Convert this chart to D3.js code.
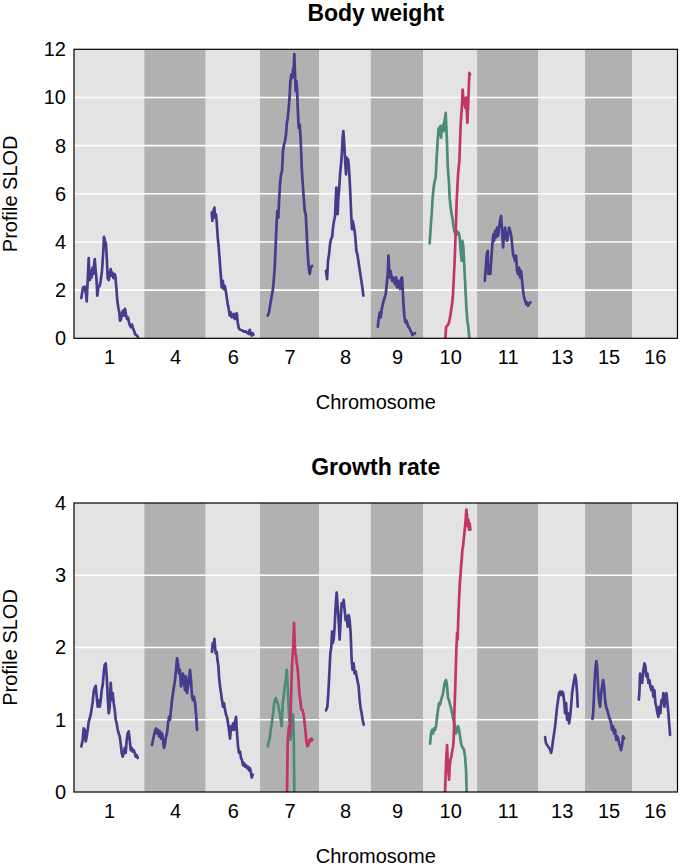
<!DOCTYPE html>
<html>
<head>
<meta charset="utf-8">
<script src="https://cdn.jsdelivr.net/npm/d3@7"></script>
<style>
  body { margin: 0; background: #fff; }
  svg { display: block; }
  text { font-family: "Liberation Sans", Arial, Helvetica, sans-serif; fill: #000; }
</style>
</head>
<body>
<svg id="chart" width="680" height="867"></svg>
<script>
// ---------- DATA ----------
const chromosomes = ["1", "4", "6", "7", "8", "9", "10", "11", "13", "15", "16"];
const chromLengths = [70.3, 61.4, 54.3, 59.3, 51.4, 52.6, 53.7, 61.3, 46.7, 47.0, 45.4];

const bodyWeightTicks = [0, 2, 4, 6, 8, 10, 12];
const growthRateTicks = [0, 1, 2, 3, 4];

const seriesColors = { main: "#463c8c", green: "#4c8a7a", red: "#c2346a" };

// Body weight profiles: [position within chromosome, SLOD]
const bwChr1 = [[7.3,1.67],[9.0,2.11],[10.7,2.14],[12.0,1.84],[12.7,1.53],[14.0,2.67],[14.7,3.33],[15.3,2.67],[16.0,2.42],[16.7,2.80],[17.7,2.53],[18.7,2.94],[19.3,2.67],[20.7,3.29],[21.7,2.80],[22.7,2.32],[23.3,1.77],[24.3,2.11],[25.7,2.18],[26.7,2.39],[28.0,2.80],[29.3,3.63],[30.0,4.21],[31.0,4.05],[32.0,3.91],[33.0,3.15],[33.7,2.50],[34.7,2.42],[35.7,2.67],[36.7,2.87],[37.3,2.60],[38.3,2.73],[39.3,2.50],[40.3,2.67],[41.3,2.60],[42.3,2.11],[43.3,1.56],[44.3,1.28],[45.3,1.08],[46.0,0.73],[47.0,0.80],[48.0,1.04],[49.0,1.15],[50.0,0.94],[51.0,1.22],[52.0,0.98],[53.0,0.80],[54.0,0.87],[55.0,0.66],[56.0,0.52],[57.0,0.46],[58.0,0.57],[59.0,0.41],[60.0,0.32],[61.0,0.18],[62.0,0.14],[63.0,0.11],[64.0,0.04]];
const bwChr6 = [[6.0,5.22],[6.7,4.88],[7.7,5.29],[8.7,5.43],[9.3,5.01],[10.3,5.15],[11.0,4.81],[12.0,4.19],[13.0,3.77],[14.0,3.22],[15.0,2.67],[16.0,2.11],[17.0,2.39],[18.0,2.04],[19.0,2.18],[20.0,1.98],[21.0,1.70],[22.0,1.42],[23.0,1.22],[24.0,0.94],[25.0,1.08],[26.0,0.87],[27.0,0.90],[28.0,1.01],[29.0,0.80],[30.0,0.94],[31.0,1.04],[32.0,0.66],[33.0,0.43],[34.0,0.37],[35.0,0.35],[36.7,0.32],[38.3,0.28],[40.0,0.29],[41.7,0.22],[43.0,0.18],[44.0,0.35],[45.0,0.18],[46.0,0.11],[47.0,0.21],[47.7,0.15]];
const bwChr7 = [[7.7,0.94],[9.0,1.08],[10.3,1.42],[11.7,1.77],[12.7,1.98],[13.7,2.39],[14.7,2.94],[15.7,3.91],[16.7,4.88],[17.3,5.29],[18.3,5.01],[19.0,5.70],[20.0,6.40],[21.0,6.81],[22.0,6.95],[23.0,7.78],[24.0,8.05],[25.0,8.19],[26.0,8.47],[26.7,8.88],[27.7,9.16],[28.7,9.57],[29.7,10.12],[30.3,10.68],[31.3,10.95],[32.3,10.81],[33.0,11.16],[33.7,11.23],[34.3,11.80],[35.0,10.95],[35.7,10.26],[36.3,10.68],[37.0,10.40],[37.7,9.57],[38.7,8.74],[39.7,8.88],[40.7,8.19],[41.7,7.09],[42.7,6.40],[43.7,5.84],[44.7,5.29],[45.7,5.15],[46.7,4.32],[47.7,3.49],[48.7,2.94],[49.7,2.67],[50.7,2.94],[52.0,3.01]];
const bwChr8 = [[6.7,2.80],[7.7,2.46],[8.7,3.22],[9.7,3.49],[10.7,3.91],[11.7,4.12],[12.7,4.19],[13.7,4.60],[14.7,4.88],[15.7,5.08],[16.3,5.70],[17.0,6.26],[17.7,5.84],[18.3,5.15],[19.0,5.84],[19.7,6.12],[20.7,6.81],[21.7,7.22],[22.7,7.78],[23.3,8.33],[24.0,8.60],[24.7,8.19],[25.3,7.78],[26.0,7.22],[26.7,6.81],[27.3,7.50],[28.0,7.09],[28.7,7.43],[29.3,7.22],[30.0,6.81],[30.7,6.26],[31.3,5.70],[32.0,5.01],[32.7,4.53],[33.3,4.88],[34.0,4.74],[35.0,4.53],[36.0,4.19],[37.0,3.63],[38.0,3.49],[39.0,3.22],[40.0,2.94],[41.0,2.67],[42.0,2.39],[43.0,2.11],[44.0,1.77]];
const bwChr9 = [[7.0,0.48],[8.0,0.80],[9.0,1.08],[10.0,0.87],[11.0,1.22],[12.0,1.42],[13.0,1.56],[14.0,1.70],[15.0,1.84],[16.0,2.25],[17.0,2.67],[17.7,3.43],[18.3,2.94],[19.0,2.53],[19.7,2.80],[20.3,2.67],[21.3,2.39],[22.3,2.53],[23.3,2.32],[24.3,2.25],[25.3,2.53],[26.3,2.11],[27.3,2.39],[28.3,2.25],[29.3,2.04],[30.3,2.46],[31.3,2.53],[32.0,1.98],[32.7,1.42],[33.7,0.87],[34.7,0.66],[35.7,0.73],[36.7,0.59],[37.7,0.46],[38.7,0.43],[39.7,0.32],[40.7,0.25],[41.7,0.14],[42.7,0.18],[44.3,0.21]];
const bwChr10Green = [[6.3,3.94],[7.3,4.60],[8.3,5.15],[9.3,5.84],[10.3,6.26],[11.3,6.53],[12.3,6.67],[13.3,7.50],[14.3,8.19],[15.3,8.72],[16.3,8.47],[17.0,8.81],[17.7,8.33],[18.3,8.72],[19.0,8.60],[19.7,8.88],[20.3,8.60],[21.0,9.02],[21.7,9.16],[22.3,9.36],[23.0,8.74],[23.7,8.05],[24.3,7.22],[25.0,6.81],[25.7,6.40],[26.3,5.84],[27.3,5.43],[28.3,5.15],[29.3,4.94],[30.3,4.60],[31.3,4.39],[32.3,4.32],[33.3,4.46],[34.3,4.32],[35.3,4.39],[36.3,4.19],[37.3,3.63],[38.3,3.22],[39.0,4.05],[40.0,3.77],[41.0,2.94],[42.0,2.11],[43.0,1.28],[44.0,0.73],[45.0,0.46],[46.0,0.00]];
const bwChr10Red = [[22.0,0.00],[22.7,0.46],[23.7,0.52],[24.7,0.57],[25.7,0.66],[26.7,0.87],[27.7,1.15],[28.7,1.42],[29.7,1.84],[30.3,2.39],[31.3,3.22],[32.0,4.05],[32.7,4.88],[33.3,5.70],[34.0,6.26],[34.7,6.81],[35.3,7.09],[36.0,7.36],[36.7,8.19],[37.3,8.88],[38.0,9.30],[38.7,9.71],[39.3,10.33],[40.0,9.92],[40.7,9.71],[41.3,9.85],[42.0,9.57],[42.7,9.99],[43.3,9.50],[44.0,8.95],[44.7,9.57],[45.3,10.26],[46.0,11.02],[46.7,10.95]];
const bwChr11 = [[7.7,2.39],[8.7,2.94],[9.7,3.49],[10.7,3.63],[11.3,2.67],[12.3,2.94],[13.3,2.67],[14.3,3.36],[15.3,3.91],[16.3,4.32],[17.0,4.05],[18.0,4.46],[19.0,4.19],[20.0,4.60],[21.0,4.25],[22.0,4.60],[23.0,4.88],[24.0,5.08],[25.0,4.46],[26.0,3.77],[27.0,4.32],[28.0,4.60],[29.0,4.19],[30.0,4.05],[31.0,4.32],[32.0,4.60],[33.0,4.46],[34.0,4.32],[35.0,3.91],[36.0,3.49],[37.0,3.36],[38.0,3.22],[39.0,3.43],[40.0,2.80],[41.0,2.67],[42.0,2.94],[43.0,2.53],[44.0,2.80],[45.0,2.39],[46.0,1.98],[47.0,1.70],[48.0,1.56],[49.0,1.42],[50.0,1.49],[51.0,1.35],[52.0,1.42],[53.3,1.49]];

// Growth rate profiles
const grChr1 = [[7.3,0.63],[8.7,0.72],[9.7,0.88],[10.7,0.86],[11.7,0.70],[12.7,0.77],[13.7,0.86],[14.7,0.97],[15.7,1.02],[16.7,1.07],[17.7,1.16],[18.7,1.25],[19.7,1.39],[20.7,1.44],[21.7,1.47],[22.7,1.32],[23.7,1.18],[24.7,1.27],[25.7,1.18],[26.7,1.27],[27.7,1.41],[28.7,1.48],[29.7,1.64],[30.7,1.76],[31.7,1.78],[32.7,1.60],[33.7,1.32],[34.7,1.09],[35.7,1.18],[36.7,1.51],[37.7,1.27],[38.7,1.37],[39.7,1.23],[40.7,1.14],[41.7,1.00],[42.7,0.95],[43.7,0.86],[44.7,0.81],[45.7,0.77],[46.7,0.67],[47.7,0.54],[48.7,0.49],[49.7,0.54],[50.7,0.61],[51.7,0.54],[52.7,0.72],[53.7,0.81],[54.7,0.84],[55.7,0.72],[56.7,0.58],[57.7,0.61],[58.7,0.56],[59.7,0.58],[60.7,0.54],[61.7,0.49],[62.7,0.51],[63.7,0.47]];
const grChr4 = [[7.7,0.65],[8.7,0.72],[9.7,0.79],[10.7,0.84],[11.7,0.88],[12.7,0.81],[13.7,0.86],[14.7,0.77],[15.7,0.84],[16.7,0.74],[17.7,0.81],[18.7,0.72],[19.7,0.61],[20.7,0.67],[21.7,0.77],[22.7,0.81],[23.7,0.95],[24.7,1.04],[25.7,1.00],[26.7,1.14],[27.7,1.27],[28.7,1.37],[29.7,1.46],[30.7,1.55],[31.7,1.69],[32.7,1.85],[33.7,1.78],[34.7,1.64],[35.7,1.69],[36.7,1.46],[37.7,1.55],[38.7,1.64],[39.7,1.51],[40.7,1.41],[41.7,1.60],[42.7,1.37],[43.7,1.46],[44.7,1.55],[45.7,1.69],[46.7,1.55],[47.7,1.32],[48.7,1.27],[49.7,1.32],[50.7,1.23],[51.7,1.09],[52.7,0.86]];
const grChr6 = [[6.3,1.94],[7.0,2.06],[8.0,1.99],[8.7,2.12],[9.3,2.01],[10.0,1.92],[11.0,1.94],[11.7,1.83],[12.7,1.74],[13.3,1.60],[14.3,1.46],[15.3,1.37],[16.3,1.27],[17.3,1.18],[18.3,1.23],[19.3,1.14],[20.3,1.07],[21.3,1.04],[22.3,0.95],[23.3,0.86],[24.3,0.74],[25.3,0.91],[26.3,0.86],[27.3,0.95],[28.3,0.86],[29.3,0.97],[30.3,1.04],[31.3,0.81],[32.3,0.63],[33.3,0.54],[34.3,0.56],[35.3,0.47],[36.3,0.44],[37.3,0.37],[38.3,0.40],[39.3,0.35],[40.3,0.37],[41.3,0.33],[42.3,0.35],[43.3,0.30],[44.3,0.33],[45.3,0.26],[46.0,0.20],[47.0,0.24]];
const grChr7Green = [[7.7,0.63],[8.7,0.70],[9.7,0.74],[10.7,0.86],[11.7,0.95],[12.7,1.04],[13.7,1.18],[14.7,1.27],[15.7,1.30],[16.7,1.25],[17.7,1.23],[18.7,1.16],[19.7,1.09],[20.7,1.00],[21.7,0.91],[22.7,1.23],[23.7,1.32],[24.7,1.46],[25.7,1.55],[26.7,1.69],[27.7,1.46],[28.3,1.27],[29.0,1.09],[29.7,0.91],[30.3,0.72],[31.3,0.81],[32.3,0.91],[33.0,1.07],[33.7,0.81],[34.0,0.35],[34.3,0.00]];
const grChr7Red = [[27.0,0.00],[27.3,0.35],[27.7,0.72],[28.3,0.81],[29.0,0.91],[29.7,0.81],[30.3,0.91],[31.0,1.27],[31.7,1.64],[32.3,1.83],[33.0,1.97],[33.7,2.20],[34.0,2.34],[34.7,2.06],[35.3,1.92],[36.0,1.88],[36.7,1.78],[37.3,1.74],[38.0,1.64],[38.7,1.51],[39.3,1.37],[40.3,1.27],[41.3,1.14],[42.3,1.14],[43.3,1.09],[44.3,1.00],[45.3,0.86],[46.3,0.70],[47.3,0.63],[48.3,0.65],[49.3,0.72],[50.3,0.70],[51.3,0.74],[52.3,0.72]];
const grChr8 = [[6.7,1.13],[8.0,1.18],[9.0,1.37],[10.0,1.64],[11.0,1.92],[12.0,2.01],[12.7,2.22],[13.3,2.06],[14.3,2.11],[15.3,2.29],[16.3,2.57],[17.3,2.76],[18.3,2.57],[19.3,2.38],[20.3,2.11],[21.3,2.38],[22.3,2.61],[23.3,2.57],[24.3,2.66],[25.3,2.52],[26.3,2.38],[27.3,2.43],[28.3,2.29],[29.3,2.45],[30.3,2.38],[31.3,2.20],[32.3,1.83],[33.3,1.69],[34.3,1.78],[35.3,1.64],[36.3,1.67],[37.3,1.60],[38.3,1.53],[39.3,1.46],[40.3,1.27],[41.3,1.16],[42.3,1.09],[43.3,1.00],[44.3,0.93]];
const grChr10Green = [[6.7,0.67],[7.7,0.81],[8.7,0.86],[9.7,0.81],[10.7,0.88],[11.7,0.86],[12.7,0.91],[13.7,1.04],[14.7,1.14],[15.7,1.23],[16.7,1.21],[17.7,1.27],[18.7,1.32],[19.7,1.37],[20.7,1.46],[21.7,1.53],[22.7,1.55],[23.7,1.46],[24.7,1.30],[25.7,1.27],[26.7,1.21],[27.7,1.16],[28.7,1.09],[29.7,1.02],[30.7,0.97],[31.7,0.91],[32.7,0.81],[33.7,0.86],[34.7,0.91],[35.7,0.86],[36.7,0.77],[37.7,0.67],[38.7,0.63],[39.7,0.61],[40.7,0.58],[41.7,0.49],[42.7,0.30],[43.3,0.00]];
const grChr10Red = [[21.7,0.00],[22.3,0.26],[23.0,0.49],[23.7,0.65],[24.3,0.44],[25.0,0.30],[25.7,0.17],[26.3,0.35],[27.0,0.44],[28.0,0.49],[29.0,0.58],[29.7,0.63],[30.3,0.72],[31.0,1.09],[31.7,1.37],[32.3,1.64],[33.0,1.97],[33.7,2.20],[34.3,2.11],[35.0,2.43],[35.7,2.66],[36.3,2.85],[37.0,2.98],[37.7,3.12],[38.3,3.21],[39.0,3.35],[39.7,3.40],[40.3,3.49],[41.0,3.58],[41.7,3.68],[42.3,3.77],[43.0,3.91],[43.7,3.82],[44.3,3.68],[45.0,3.77],[45.7,3.63],[46.3,3.72],[47.0,3.63]];
const grChr13 = [[6.7,0.76],[7.7,0.67],[8.7,0.65],[9.7,0.63],[10.7,0.61],[11.7,0.59],[12.7,0.54],[13.7,0.61],[14.7,0.72],[15.7,0.81],[16.7,0.91],[17.7,1.04],[18.7,1.18],[19.7,1.27],[20.7,1.37],[21.7,1.39],[22.7,1.34],[23.7,1.39],[24.7,1.37],[25.7,1.27],[26.7,1.09],[27.7,1.23],[28.7,1.00],[29.7,1.09],[30.7,0.95],[31.7,1.04],[32.7,1.18],[33.7,1.37],[34.7,1.46],[35.7,1.55],[36.7,1.62],[37.7,1.55],[38.7,1.37],[39.3,1.18]];
const grChr15 = [[7.3,1.01],[8.0,1.07],[8.7,1.27],[9.3,1.46],[10.0,1.64],[10.7,1.76],[11.3,1.81],[12.0,1.74],[12.7,1.55],[13.3,1.37],[14.0,1.27],[15.0,1.18],[16.0,1.37],[17.0,1.46],[18.0,1.55],[19.0,1.46],[20.0,1.27],[21.0,1.18],[22.0,1.14],[23.0,1.09],[24.0,1.04],[25.0,1.00],[26.0,0.95],[27.0,0.86],[28.0,0.91],[29.0,0.81],[30.0,0.86],[31.0,0.72],[32.0,0.77],[33.0,0.74],[34.0,0.67],[35.0,0.63],[36.0,0.58],[37.0,0.65],[38.0,0.77],[39.0,0.74]];
const grChr16 = [[6.7,1.28],[7.3,1.37],[8.0,1.64],[8.7,1.55],[9.3,1.60],[10.0,1.51],[10.7,1.60],[11.3,1.69],[12.3,1.78],[13.3,1.74],[14.3,1.60],[15.3,1.64],[16.3,1.51],[17.3,1.55],[18.3,1.46],[19.3,1.41],[20.3,1.46],[21.3,1.32],[22.3,1.41],[23.3,1.23],[24.3,1.18],[25.3,1.09],[26.3,1.04],[27.3,1.18],[28.3,1.09],[29.3,1.27],[30.3,1.23],[31.3,1.37],[32.3,1.18],[33.3,1.32],[34.3,1.37],[35.3,1.23],[36.3,1.09],[37.3,0.91],[38.0,0.79]];

const bodyWeightSeries = [
  { chr: "1", kind: "main", values: bwChr1 },
  { chr: "6", kind: "main", values: bwChr6 },
  { chr: "7", kind: "main", values: bwChr7 },
  { chr: "8", kind: "main", values: bwChr8 },
  { chr: "9", kind: "main", values: bwChr9 },
  { chr: "10", kind: "green", values: bwChr10Green },
  { chr: "10", kind: "red", values: bwChr10Red },
  { chr: "11", kind: "main", values: bwChr11 }
];
const growthRateSeries = [
  { chr: "1", kind: "main", values: grChr1 },
  { chr: "4", kind: "main", values: grChr4 },
  { chr: "6", kind: "main", values: grChr6 },
  { chr: "7", kind: "green", values: grChr7Green },
  { chr: "7", kind: "red", values: grChr7Red },
  { chr: "8", kind: "main", values: grChr8 },
  { chr: "10", kind: "green", values: grChr10Green },
  { chr: "10", kind: "red", values: grChr10Red },
  { chr: "13", kind: "main", values: grChr13 },
  { chr: "15", kind: "main", values: grChr15 },
  { chr: "16", kind: "main", values: grChr16 }
];

// ---------- DRAW ----------
const svg = d3.select("#chart");
const plotLeft = 74, plotRight = 677.5;

const offsets = {};
let acc = 0;
chromosomes.forEach((c, i) => { offsets[c] = acc; acc += chromLengths[i]; });
const totalLength = acc;

const x = d3.scaleLinear().domain([0, totalLength]).range([plotLeft, plotRight]);

function drawPanel(cfg) {
  const { top, bottom, ymax, ticks, title, series, id } = cfg;
  const y = d3.scaleLinear().domain([0, ymax]).range([bottom, top]);
  const g = svg.append("g");

  g.append("clipPath").attr("id", id).append("rect")
    .attr("x", plotLeft).attr("y", top).attr("width", plotRight - plotLeft).attr("height", bottom - top);

  // chromosome bands
  g.append("g").selectAll("rect").data(chromosomes).join("rect")
    .attr("x", d => x(offsets[d]))
    .attr("y", top)
    .attr("width", (d, i) => x(offsets[d] + chromLengths[i]) - x(offsets[d]))
    .attr("height", bottom - top)
    .attr("fill", (d, i) => i % 2 === 0 ? "#e3e3e3" : "#b1b1b1");

  // gridlines
  g.append("g").selectAll("line").data(ticks.filter(t => t > 0 && t < ymax)).join("line")
    .attr("x1", plotLeft).attr("x2", plotRight)
    .attr("y1", d => y(d)).attr("y2", d => y(d))
    .attr("stroke", "#ffffff").attr("stroke-width", 1.6);

  // profiles
  const line = d3.line()
    .x(d => x(d.off + d.p[0]))
    .y(d => y(d.p[1]));
  g.append("g").attr("clip-path", `url(#${id})`).selectAll("path").data(series).join("path")
    .attr("d", s => line(s.values.map(p => ({ off: offsets[s.chr], p }))))
    .attr("fill", "none")
    .attr("stroke", s => seriesColors[s.kind])
    .attr("stroke-width", 2.7)
    .attr("stroke-linejoin", "round")
    .attr("stroke-linecap", "round");

  // border
  g.append("rect")
    .attr("x", plotLeft).attr("y", top)
    .attr("width", plotRight - plotLeft).attr("height", bottom - top)
    .attr("fill", "none").attr("stroke", "#000").attr("stroke-width", 1.2);

  // y axis (labels only)
  const yAxis = d3.axisLeft(y).tickValues(ticks).tickSize(0).tickPadding(8).tickFormat(d3.format("d"));
  const ya = g.append("g").attr("transform", `translate(${plotLeft},0)`).call(yAxis);
  ya.select(".domain").remove();
  ya.selectAll("text").attr("font-size", 20).attr("font-family", "Liberation Sans, Arial, sans-serif").attr("fill", "#000");

  // x axis (chromosome labels at band centers)
  const xAxis = d3.axisBottom(x)
    .tickValues(chromosomes.map((c, i) => offsets[c] + chromLengths[i] / 2))
    .tickFormat((d, i) => chromosomes[i])
    .tickSize(0).tickPadding(12);
  const xa = g.append("g").attr("transform", `translate(0,${bottom})`).call(xAxis);
  xa.select(".domain").remove();
  xa.selectAll("text").attr("font-size", 20).attr("font-family", "Liberation Sans, Arial, sans-serif").attr("fill", "#000");

  // titles
  const cx = (plotLeft + plotRight) / 2;
  g.append("text").attr("x", cx).attr("y", top - 28)
    .attr("text-anchor", "middle").attr("font-size", 23).attr("font-weight", "bold")
    .text(title);
  g.append("text").attr("x", cx).attr("y", bottom + 70.5)
    .attr("text-anchor", "middle").attr("font-size", 20)
    .text("Chromosome");
  g.append("text")
    .attr("transform", `translate(17,${(top + bottom) / 2}) rotate(-90)`)
    .attr("text-anchor", "middle").attr("font-size", 20)
    .text("Profile SLOD");
}

drawPanel({ id: "clipBW", top: 49.3, bottom: 338.3, ymax: 12, ticks: bodyWeightTicks, title: "Body weight", series: bodyWeightSeries });
drawPanel({ id: "clipGR", top: 503, bottom: 792, ymax: 4, ticks: growthRateTicks, title: "Growth rate", series: growthRateSeries });
</script>
</body>
</html>
